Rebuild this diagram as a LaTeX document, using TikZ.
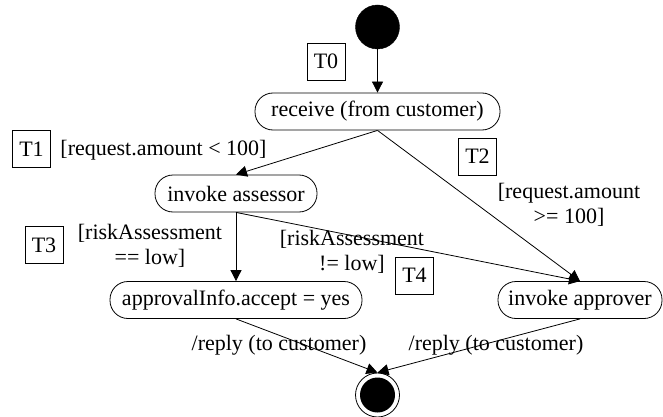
\documentclass[tikz,border=0pt]{standalone}
\usepackage{fontspec}
\setmainfont{Liberation Serif}
\usetikzlibrary{arrows.meta}
\begin{document}
\begin{tikzpicture}[x=1pt,y=-1pt,
  every node/.style={font=\fontsize{22}{25}\selectfont},
  st/.style={draw, rounded corners=18pt, minimum height=37pt, inner sep=0pt, line width=0.8pt},
  tbox/.style={draw, minimum width=38pt, minimum height=37pt, inner sep=0pt, line width=0.7pt},
  lbl/.style={align=center, inner sep=0pt},
  edge/.style={line width=0.8pt, -{Triangle[length=11pt,width=11pt]}}]
\useasboundingbox (0,0) rectangle (663,417);
% states
\node[circle, draw, fill=black, minimum size=44pt, inner sep=0pt] (start) at (377.5,27) {};
\node[st, minimum width=245pt] (recv) at (377.5,111.5) {receive (from customer)};
\node[st, minimum width=162pt] (assr) at (236,193.5) {invoke assessor};
\node[st, minimum width=252pt] (info) at (236,300) {approvalInfo.accept = yes};
\node[st, minimum width=164pt] (apprv) at (580,300) {invoke approver};
\node[circle, draw, line width=0.8pt, minimum size=44pt, inner sep=0pt] (end) at (377.5,395) {};
\node[circle, fill=black, minimum size=35pt, inner sep=0pt] (endin) at (end.center) {};
% transition tags
\node[tbox] (t0) at (326,61.5) {T0};
\node[tbox] (t1) at (31.5,149) {T1};
\node[tbox] (t2) at (477.5,156.5) {T2};
\node[tbox] (t3) at (44,245) {T3};
\node[tbox] (t4) at (414.5,275.5) {T4};
% guards
\node[lbl] (g1) at (163.5,150) {[request.amount < 100]};
\node[lbl] (g2) at (569,205) {[request.amount\\>= 100]};
\node[lbl] (g3) at (150,246) {[riskAssessment\\== low]};
\node[lbl] (g4) at (352,252) {[riskAssessment\\!= low]};
\node[lbl] (r1) at (279,345) {/reply (to customer)};
\node[lbl] (r2) at (496,345) {/reply (to customer)};
% edges
\draw[edge] (start.south) -- (recv.north);
\draw[edge] (recv.south) -- (assr.north);
\draw[edge] (recv.south) -- (apprv.north);
\draw[edge] (assr.south) -- (info.north);
\draw[edge] (assr.south) -- (apprv.north);
\draw[edge] (info.south) -- (end.north);
\draw[edge] (apprv.south) -- (end.north);
\end{tikzpicture}
\end{document}
